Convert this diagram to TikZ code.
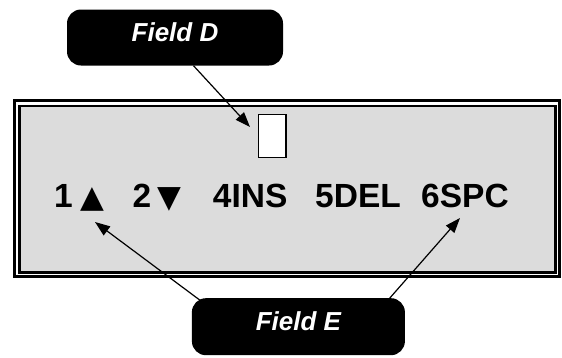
\documentclass[tikz,border=0pt]{standalone}
\usepackage{fontspec}
\setmainfont{Liberation Sans}
\newfontfamily\symfont{DejaVu Sans}
\usetikzlibrary{arrows.meta,calc}
\definecolor{lcdgray}{RGB}{220,220,220}
\begin{document}
\begin{tikzpicture}[x=1pt,y=-1pt,
  callout/.style={fill=black,rounded corners=14pt,text=white,
    font=\fontsize{26}{28}\selectfont\bfseries\itshape,
    text height=18pt,text depth=10pt,inner sep=0pt},
  lcd/.style={font=\fontsize{33.5}{36}\selectfont\bfseries,inner sep=0pt,anchor=base west},
  tri/.style={font=\symfont\fontsize{31}{36}\selectfont,inner sep=0pt,anchor=base west},
  arr/.style={line width=1.2pt,-{Triangle[length=15pt,width=11pt]}},
  frameline/.style={line width=2.7pt,draw=black}]
\useasboundingbox (0,0) rectangle (562,357);
% frame
\draw[frameline] (14.3,100.6) rectangle (559.3,276.5);
\draw[frameline,fill=lcdgray] (19.7,106) rectangle (555.7,272.5);
% cursor field
\node[draw=black,line width=1.3pt,fill=white,minimum width=27.7pt,minimum height=43pt,inner sep=0pt] (cur) at (272.1,135.8) {};
% text row
\node[lcd] (t1) at (54,207.5) {1};
\node[tri] (s1) at (80.5,207.5) {▲};
\node[lcd] (t2) at (132.5,207.5) {2};
\node[tri] (s2) at (157,207.5) {▼};
\node[lcd] (t4) at (212.7,207.5) {4INS};
\node[lcd] (t5) at (315,207.5) {5DEL};
\node[lcd] (t6) at (421,207.5) {6SPC};
% callouts
\node[callout,minimum width=216pt,minimum height=56pt] (boxD) at (175,37.5) {Field D};
\node[callout,minimum width=213pt,minimum height=57pt] (boxE) at (298.4,326.7) {Field E};
% arrows
\coordinate (dTip) at (250,127);
\coordinate (eTipL) at (95,222);
\coordinate (eTipR) at (460,218);
\draw[arr] ($(boxD.south)+(18.5,0)$) -- (dTip);
\draw[arr] ($(boxE.north west)+(8,2)$) -- (eTipL);
\draw[arr] ($(boxE.north east)+(-17,2)$) -- (eTipR);
\end{tikzpicture}
\end{document}
